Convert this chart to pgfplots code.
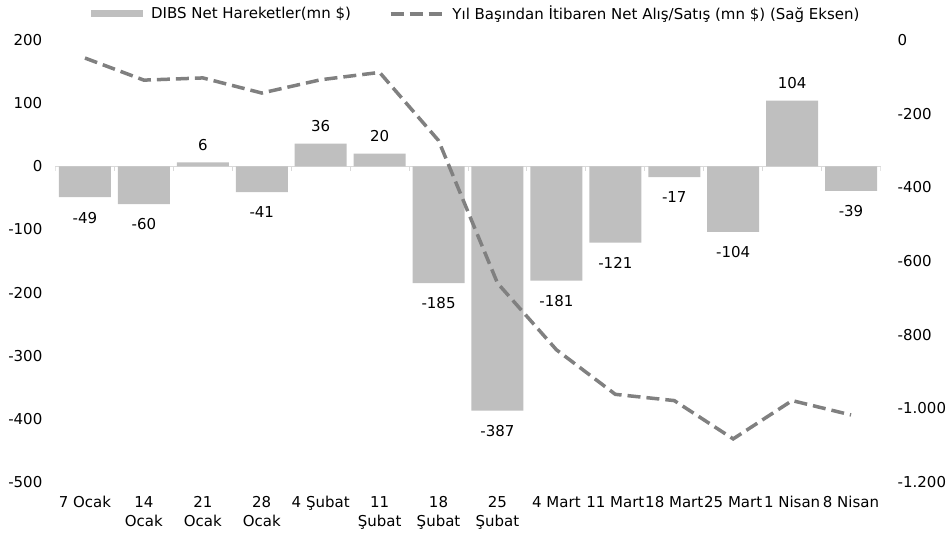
\documentclass[border=0pt]{standalone}
\usepackage{pgfplots}
\pgfplotsset{compat=1.18}
\usepackage{fontspec}
\setmainfont{DejaVu Sans}
\definecolor{barc}{RGB}{191,191,191}
\definecolor{linec}{RGB}{128,128,128}
\definecolor{zeroc}{RGB}{217,217,217}
\begin{document}
\fontsize{15bp}{18bp}\selectfont
\begin{tikzpicture}
\pgfplotsset{
  common/.style={
    width=825bp, height=442bp, scale only axis,
    xmin=-0.5, xmax=13.5,
    axis line style={draw=none},
    tick style={draw=none},
    /pgf/number format/assume math mode=true,
    tick label style={font=\fontsize{15bp}{19.5bp}\selectfont},
  }
}
\begin{axis}[common, name=ax,
  ymin=-500, ymax=200, ytick={-500,-400,...,200},
  xtick={0,...,13},
  xticklabels={{7 Ocak},{14\\Ocak},{21\\Ocak},{28\\Ocak},{4 Şubat},{11\\Şubat},{18\\Şubat},{25\\Şubat},{4 Mart},{11 Mart},{18 Mart},{25 Mart},{1 Nisan},{8 Nisan}},
  xticklabel style={align=center, anchor=north, yshift=-9bp},
  yticklabel style={anchor=east, xshift=-8bp},
  extra y ticks={0}, extra y tick labels={},
  extra y tick style={grid=major, major grid style={draw=zeroc, line width=1.5bp}},
  legend columns=2,
  legend style={at={(0.51,1)}, anchor=center, yshift=26bp, draw=none, fill=none,
    font=\fontsize{15bp}{18bp}\selectfont,
    /tikz/every even column/.append style={column sep=36bp}},
]
\pgfplotsinvokeforeach{-0.5,0.5,...,13.5}{\draw[zeroc, line width=1bp] (axis cs:#1,0) -- ([yshift=-5bp]axis cs:#1,0);}
\addplot[ybar, bar width=52bp, fill=barc, draw=none,
  nodes near coords,
  nodes near coords style={font=\fontsize{15bp}{18bp}\selectfont, inner sep=13bp, yshift=-1.5bp, text=black},
  legend image code/.code={\fill[barc] (0bp,-3.5bp) rectangle (52bp,3.5bp); \path (58bp,0bp);}]
  coordinates {(0,-49) (1,-60) (2,6) (3,-41) (4,36) (5,20) (6,-185) (7,-387) (8,-181) (9,-121) (10,-17) (11,-104) (12,104) (13,-39)};
\addlegendentry{DIBS Net Hareketler(mn \$)}
\addlegendimage{linec, line width=3.5bp, dash pattern=on 13bp off 6bp,
  legend image code/.code={\draw[linec, line width=3.5bp, dash pattern=on 13bp off 6bp] (0bp,0bp) -- (52bp,0bp); \path (58bp,0bp);}}
\addlegendentry{Yıl Başından İtibaren Net Alış/Satış (mn \$) (Sağ Eksen)}
\end{axis}
\begin{axis}[common, at={(ax.south west)}, anchor=south west,
  ymin=-1200, ymax=0, ytick={-1200,-1000,...,0},
  xtick=\empty, yticklabel pos=right,
  yticklabel style={anchor=west, xshift=12bp, /pgf/number format/1000 sep={.}},
]
\addplot[linec, line width=3.5bp, dash pattern=on 13bp off 6bp]
  coordinates {(0,-49) (1,-109) (2,-103) (3,-144) (4,-108) (5,-88) (6,-273) (7,-660) (8,-841) (9,-962) (10,-979) (11,-1083) (12,-979) (13,-1018)};
\end{axis}
\pgfresetboundingbox
\path[use as bounding box] ([xshift=-55.5bp,yshift=-55bp]ax.south west) rectangle ([xshift=66.5bp,yshift=40bp]ax.north east);
\end{tikzpicture}
\end{document}
